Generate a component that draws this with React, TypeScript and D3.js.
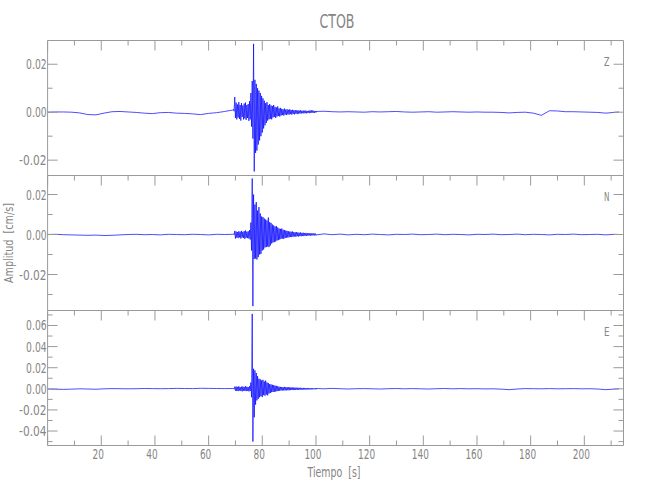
import React from "react";
import * as d3 from "d3";

// ---------- text ----------
const title = "CTOB";
const xLabel = "Tiempo  [s]";
const yLabel = "Amplitud  [cm/s]";
const componentNames = ["Z", "N", "E"];

// ---------- axes ----------
const timeRange = [0, 214.6];
const xMajorTicks = [0, 20, 40, 60, 80, 100, 120, 140, 160, 180, 200];
const xLabelTicks = [20, 40, 60, 80, 100, 120, 140, 160, 180, 200];
const xMinorTicks = [10, 30, 50, 70, 90, 110, 130, 150, 170, 190, 210];

const zRange = [-0.0264, 0.0299];
const nRange = [-0.038, 0.0295];
const eRange = [-0.0537, 0.0742];
const zTicks = [-0.02, 0, 0.02];
const nTicks = [-0.02, 0, 0.02];
const eTicks = [-0.04, -0.02, 0, 0.02, 0.04, 0.06];
const minorStep = 0.01;

// ---------- quiet parts of the traces (time s, amplitude cm/s) ----------
const preT = [0, 3, 6, 9, 12, 15, 18, 21, 24, 27, 30, 33, 36, 39, 42, 45, 48, 51, 54, 57, 60, 63, 66, 69];
const postT = [100, 103, 106, 109, 112, 115, 118, 121, 124, 127, 130, 133, 136, 139, 142, 145, 148, 151, 154, 157, 160, 163, 166, 169, 172, 175, 178, 181, 184, 187, 190, 193, 196, 199, 202, 205, 208, 211, 213];

const zPre = [0.0, 0.0001, 0.0001, 0.0, -0.0003, -0.001, -0.0011, -0.0004, 0.0002, 0.0003, 0.0001, -0.0001, -0.0004, -0.0006, -0.0002, -0.0001, -0.0004, -0.0005, -0.0007, -0.001, -0.0005, -0.0002, 0.0003, 0.0009];
const zPost = [0.0003, 0.0004, 0.0002, 0.0001, 0.0002, 0.0001, 0.0, 0.0002, 0.0001, 0.0002, 0.0003, 0.0001, 0.0, 0.0001, 0.0002, 0.0, 0.0001, 0.0002, 0.0001, 0.0, 0.0001, 0.0, 0.0, -0.0001, -0.0003, -0.0001, 0.0, -0.0004, -0.0013, 0.0006, 0.0005, 0.0002, 0.0002, 0.0001, 0.0, -0.0001, -0.0004, -0.0001, 0.0001];

const nPre = [0.0, 0.0001, -0.0001, -0.0002, -0.0003, -0.0004, -0.0003, -0.0005, -0.0004, -0.0002, 0.0, 0.0001, -0.0001, 0.0, -0.0002, 0.0001, 0.0, -0.0001, 0.0001, 0.0, -0.0002, 0.0001, 0.0, 0.0001];
const nPost = [-0.0002, 0.0003, -0.0001, 0.0002, -0.0002, 0.0001, -0.0001, 0.0002, 0.0, -0.0002, 0.0001, 0.0, 0.0002, -0.0001, 0.0, 0.0002, -0.0001, 0.0001, 0.0, -0.0002, 0.0001, 0.0, 0.0002, -0.0001, 0.0, 0.0002, -0.0001, 0.0001, 0.0, -0.0002, 0.0001, 0.0, 0.0002, -0.0001, 0.0, 0.0001, -0.0002, 0.0001, 0.0];

const ePre = [-0.0002, -0.0004, -0.0005, -0.0003, 0.0, -0.0002, -0.0004, 0.0, 0.0002, 0.0001, 0.0, 0.0001, 0.0003, 0.0002, 0.0001, 0.0002, 0.0004, 0.0003, 0.0002, 0.0005, 0.0004, 0.0003, 0.0002, 0.0003];
const ePost = [0.0003, 0.0, 0.0004, 0.0001, -0.0002, 0.0001, 0.0002, 0.0, -0.0002, 0.0001, 0.0003, 0.0, 0.0002, 0.0, -0.0002, 0.0001, 0.0003, 0.0, 0.0002, 0.0, 0.0001, -0.0001, 0.0, -0.0003, -0.0008, -0.0002, 0.0002, 0.0001, 0.0, 0.0002, 0.0, 0.0001, 0.0002, 0.0, 0.0001, -0.0002, -0.0008, -0.0003, 0.0];

// ---------- event burst: per 0.5 s window, highest and lowest amplitude ----------
const burstStart = 69.25;
const burstStep = 0.5;

const zHi = [0.0012, 0.0063, 0.004, 0.0032, 0.0042, 0.003, 0.0038, 0.0028, 0.0036, 0.004, 0.003, 0.0034, 0.0046,
  0.008, 0.013, 0.0285,
  0.0135, 0.0118, 0.01, 0.009, 0.008, 0.0068, 0.0058, 0.0048, 0.0038, 0.0042, 0.003, 0.0034, 0.0028, 0.0026, 0.003, 0.0022, 0.002, 0.0024, 0.0016, 0.0018,
  0.0014, 0.0012, 0.0015, 0.0011, 0.0012, 0.001, 0.0012, 0.0009, 0.001, 0.0008, 0.0009, 0.0007, 0.0008, 0.0007, 0.0008, 0.0006, 0.0007, 0.0006, 0.0007, 0.0005, 0.0006, 0.0007, 0.0008, 0.0007, 0.0006, 0.0005];
const zLo = [0.0004, -0.0024, -0.003, -0.0022, -0.0028, -0.0035, -0.002, -0.003, -0.0026, -0.0032, -0.0024, -0.0036, -0.003,
  -0.006, -0.011, -0.0247,
  -0.017, -0.016, -0.0135, -0.0118, -0.01, -0.0085, -0.0068, -0.0055, -0.0045, -0.0035, -0.003, -0.0028, -0.003, -0.0022, -0.002, -0.0024, -0.0018, -0.0016, -0.0018, -0.0014,
  -0.0012, -0.0014, -0.001, -0.0012, -0.0009, -0.001, -0.0008, -0.001, -0.0007, -0.0009, -0.0006, -0.0008, -0.0006, -0.0005, -0.0006, -0.0004, -0.0005, -0.0004, -0.0005, -0.0003, -0.0004, -0.0002, -0.0003, -0.0002, -0.0003, -0.0001];

const nHi = [0.0003, 0.0018, 0.0015, 0.0012, 0.0016, 0.0014, 0.0018, 0.0013, 0.0017, 0.002, 0.0014, 0.0016, 0.0022,
  0.006, 0.028, 0.02,
  0.015, 0.0162, 0.012, 0.0137, 0.0105, 0.009, 0.0087, 0.008, 0.0075, 0.007, 0.0085, 0.0062, 0.0058, 0.005, 0.0045, 0.004, 0.0042, 0.0035, 0.003, 0.0028,
  0.003, 0.0024, 0.0022, 0.002, 0.0018, 0.0016, 0.0015, 0.0014, 0.0015, 0.0012, 0.0011, 0.0012, 0.001, 0.0009, 0.001, 0.0008, 0.0009, 0.0007, 0.0008, 0.0007, 0.0006, 0.0007, 0.0006, 0.0005, 0.0006, 0.0005];
const nLo = [-0.0002, -0.002, -0.0016, -0.0018, -0.0014, -0.002, -0.0015, -0.0017, -0.0022, -0.0016, -0.0018, -0.002, -0.0025,
  -0.008, -0.0358, -0.0122,
  -0.012, -0.0125, -0.0113, -0.01, -0.0097, -0.008, -0.0075, -0.0065, -0.0063, -0.006, -0.0063, -0.0055, -0.0045, -0.004, -0.0038, -0.0035, -0.003, -0.0028, -0.0025, -0.0022,
  -0.002, -0.0022, -0.0018, -0.0016, -0.0015, -0.0014, -0.0012, -0.0013, -0.0011, -0.001, -0.0011, -0.0009, -0.001, -0.0008, -0.0009, -0.0007, -0.0008, -0.0006, -0.0007, -0.0006, -0.0005, -0.0006, -0.0005, -0.0004, -0.0005, -0.0004];

const eHi = [0.0004, 0.002, 0.0022, 0.0018, 0.0024, 0.0016, 0.002, 0.0022, 0.0018, 0.0024, 0.002, 0.0016, 0.0025,
  0.006, 0.071, 0.019,
  0.0175, 0.015, 0.012, 0.0095, 0.009, 0.008, 0.0085, 0.007, 0.0078, 0.006, 0.0055, 0.0045, 0.0042, 0.0038, 0.0035, 0.003, 0.0028, 0.0024, 0.002, 0.0018,
  0.0017, 0.0016, 0.0018, 0.0015, 0.0016, 0.0014, 0.0015, 0.0013, 0.0012, 0.0013, 0.0011, 0.001, 0.0011, 0.0009, 0.001, 0.0008, 0.0009, 0.0008, 0.0007, 0.0008, 0.0007, 0.0006, 0.0007, 0.0006, 0.0005, 0.0006];
const eLo = [-0.0003, -0.0018, -0.002, -0.0022, -0.0016, -0.002, -0.0024, -0.0018, -0.002, -0.0022, -0.0018, -0.0024, -0.002,
  -0.008, -0.05, -0.027,
  -0.015, -0.011, -0.0095, -0.008, -0.007, -0.0078, -0.006, -0.0065, -0.0055, -0.0062, -0.0045, -0.004, -0.0032, -0.003, -0.0028, -0.0026, -0.0022, -0.002, -0.0018, -0.0016,
  -0.0015, -0.0016, -0.0014, -0.0015, -0.0013, -0.0014, -0.0012, -0.0011, -0.0012, -0.001, -0.0011, -0.0009, -0.001, -0.0008, -0.0009, -0.0007, -0.0008, -0.0007, -0.0006, -0.0007, -0.0006, -0.0005, -0.0006, -0.0005, -0.0004, -0.0005];

// ---------- layout / style ----------
const W = 650;
const H = 500;
const LEFT = 47.6;
const RIGHT = 623.5;
const TOP = 40.5;
const PANEL_H = 135;
const AXIS = "#9a9a9a";
const TEXT = "#858585";
const TRACE = "#0000ff";
const FONT = "'DejaVu Sans', 'Liberation Sans', sans-serif";

const panels = [
  { name: componentNames[0], range: zRange, ticks: zTicks, pre: zPre, post: zPost, hi: zHi, lo: zLo },
  { name: componentNames[1], range: nRange, ticks: nTicks, pre: nPre, post: nPost, hi: nHi, lo: nLo },
  { name: componentNames[2], range: eRange, ticks: eTicks, pre: ePre, post: ePost, hi: eHi, lo: eLo },
];

const fmt = (v: number) => (Math.abs(v) < 1e-9 ? "0.00" : v.toFixed(2));
const numLen = (s: string) =>
  s.split("").reduce((a, c) => a + (c === "." ? 3.4 : c === "-" ? 7 : 5.7), 0);

export default function App() {
  const x = d3.scaleLinear().domain(timeRange).range([LEFT, RIGHT]);

  return (
    <svg
      width={W}
      height={H}
      style={{ position: "absolute", left: 0, top: 0, background: "#fff" }}
      fontFamily={FONT}
      fontWeight={400}
    >
      <rect x={0} y={0} width={W} height={H} fill="#fff" />
      {panels.map((p, k) => {
        const top = TOP + k * PANEL_H;
        const bottom = top + PANEL_H;
        const y = d3.scaleLinear().domain(p.range).range([bottom, top]);
        const pts: [number, number][] = [];
        preT.forEach((t, i) => pts.push([t, p.pre[i]]));
        p.hi.forEach((h, i) => {
          const t = burstStart + i * burstStep;
          pts.push([t, h]);
          pts.push([t + burstStep / 2, p.lo[i]]);
        });
        postT.forEach((t, i) => pts.push([t, p.post[i]]));
        const line = d3
          .line<[number, number]>()
          .x((d) => x(d[0]))
          .y((d) => y(d[1]));
        const minor = d3
          .range(Math.ceil(p.range[0] / minorStep), Math.floor(p.range[1] / minorStep) + 1)
          .map((m) => m * minorStep)
          .filter((v) => !p.ticks.some((t) => Math.abs(t - v) < 1e-9));
        const isLast = k === panels.length - 1;
        return (
          <g key={p.name}>
            <path d={line(pts) || ""} fill="none" stroke={TRACE} strokeWidth={0.7} strokeLinejoin="round" />
            {/* frame */}
            <line x1={LEFT} x2={RIGHT} y1={top} y2={top} stroke={AXIS} />
            {isLast && <line x1={LEFT} x2={RIGHT} y1={bottom} y2={bottom} stroke={AXIS} />}
            <line x1={LEFT} x2={LEFT} y1={top} y2={bottom} stroke={AXIS} />
            <line x1={RIGHT} x2={RIGHT} y1={top} y2={bottom} stroke={AXIS} />
            {/* top ticks */}
            {xMajorTicks.map((t) => (
              <line key={"tm" + t} x1={x(t)} x2={x(t)} y1={top} y2={top + 10} stroke={AXIS} />
            ))}
            {xMinorTicks.map((t) => (
              <line key={"tn" + t} x1={x(t)} x2={x(t)} y1={top} y2={top + 5} stroke={AXIS} />
            ))}
            {isLast &&
              xMajorTicks.map((t) => (
                <line key={"bm" + t} x1={x(t)} x2={x(t)} y1={bottom} y2={bottom - 10} stroke={AXIS} />
              ))}
            {isLast &&
              xMinorTicks.map((t) => (
                <line key={"bn" + t} x1={x(t)} x2={x(t)} y1={bottom} y2={bottom - 5} stroke={AXIS} />
              ))}
            {/* y ticks */}
            {p.ticks.map((v) => (
              <g key={"y" + v}>
                <line x1={LEFT} x2={LEFT + 10} y1={y(v)} y2={y(v)} stroke={AXIS} />
                <line x1={RIGHT} x2={RIGHT - 10} y1={y(v)} y2={y(v)} stroke={AXIS} />
                <text
                  x={LEFT - 1}
                  y={y(v) + 5}
                  textAnchor="end"
                  fontSize={13.5}
                  fill={TEXT}
                  textLength={numLen(fmt(v))}
                  lengthAdjust="spacingAndGlyphs"
                >
                  {fmt(v)}
                </text>
              </g>
            ))}
            {minor.map((v) => (
              <g key={"ym" + v}>
                <line x1={LEFT} x2={LEFT + 5} y1={y(v)} y2={y(v)} stroke={AXIS} />
                <line x1={RIGHT} x2={RIGHT - 5} y1={y(v)} y2={y(v)} stroke={AXIS} />
              </g>
            ))}
            <text
              x={609.5}
              y={top + 25.5}
              textAnchor="end"
              fontSize={13}
              fill={TEXT}
              textLength={5.5}
              lengthAdjust="spacingAndGlyphs"
            >
              {p.name}
            </text>
          </g>
        );
      })}
      {xLabelTicks.map((t) => (
        <text
          key={"xl" + t}
          x={x(t) - 3}
          y={459}
          textAnchor="middle"
          fontSize={13.5}
          fill={TEXT}
          textLength={numLen(String(t))}
          lengthAdjust="spacingAndGlyphs"
        >
          {t}
        </text>
      ))}
      <text x={334} y={477} textAnchor="middle" fontSize={13.5} fill={TEXT} textLength={53} lengthAdjust="spacingAndGlyphs" style={{ whiteSpace: "pre" }}>
        {xLabel}
      </text>
      <text
        transform="translate(13,243) rotate(-90)"
        textAnchor="middle"
        fontSize={13}
        fill={TEXT}
        textLength={80}
        lengthAdjust="spacingAndGlyphs"
        style={{ whiteSpace: "pre" }}
      >
        {yLabel}
      </text>
      <text x={337} y={28} textAnchor="middle" fontSize={20} fill={TEXT} textLength={35} lengthAdjust="spacingAndGlyphs">
        {title}
      </text>
    </svg>
  );
}
